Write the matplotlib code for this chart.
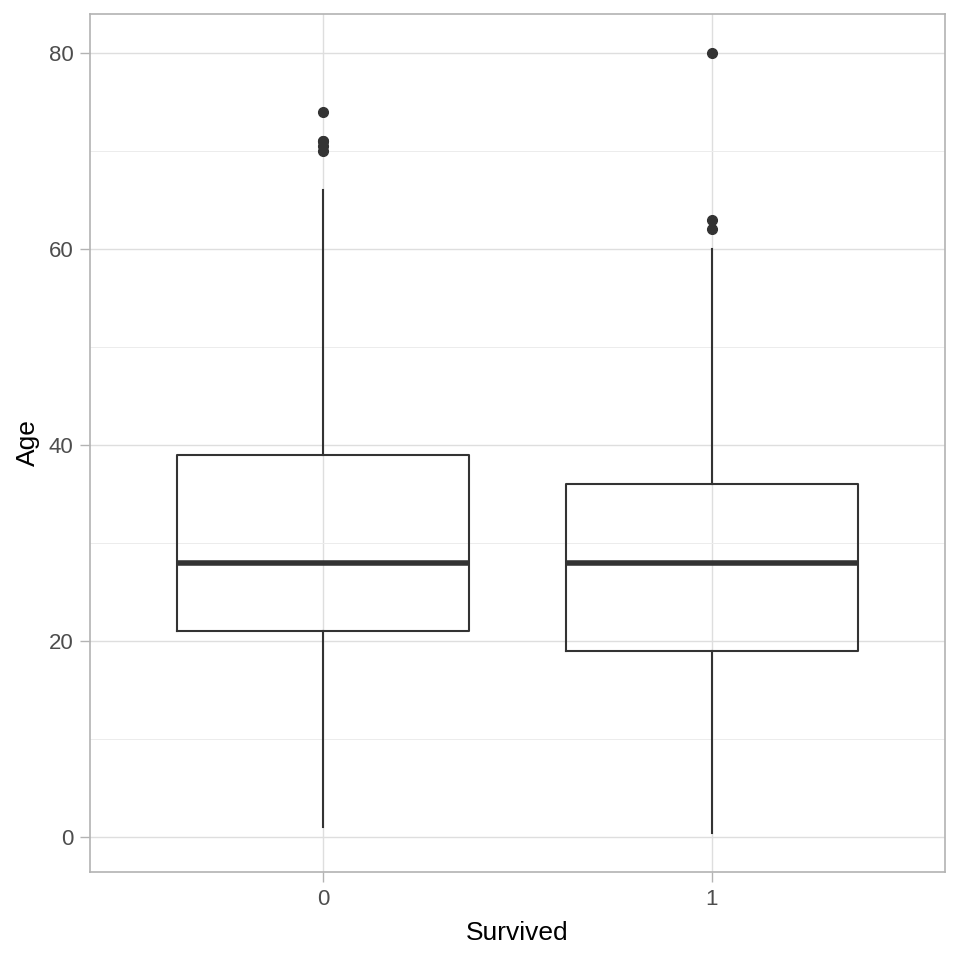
import matplotlib
matplotlib.use("Agg")
import matplotlib.pyplot as plt
from matplotlib.ticker import MultipleLocator

plt.rcParams["font.family"] = ["Liberation Sans", "DejaVu Sans"]

groups = ["0", "1"]
q1 = [21, 19]
median = [28, 28]
q3 = [39, 36]
whisker_low = [1, 0.42]
whisker_high = [66, 60]
outliers = [[70, 70.5, 71, 71, 74], [62, 63, 80]]

stats = []
for i, g in enumerate(groups):
    stats.append({
        "label": g,
        "q1": q1[i], "med": median[i], "q3": q3[i],
        "whislo": whisker_low[i], "whishi": whisker_high[i],
        "fliers": outliers[i],
    })

fig = plt.figure(figsize=(9.6, 9.6), dpi=100)
ax = fig.add_axes([90 / 960, 88 / 960, 855 / 960, 858 / 960])

dark = "#333333"
ax.bxp(
    stats,
    positions=[1, 2],
    widths=0.75,
    showcaps=False,
    boxprops=dict(color=dark, linewidth=1.5),
    whiskerprops=dict(color=dark, linewidth=1.5),
    medianprops=dict(color=dark, linewidth=4, solid_capstyle="butt"),
    flierprops=dict(marker="o", markerfacecolor=dark, markeredgecolor=dark, markersize=7),
    zorder=3,
)

ax.set_xlim(0.4, 2.6)
ax.set_ylim(-3.56, 83.98)
ax.yaxis.set_major_locator(MultipleLocator(20))
ax.yaxis.set_minor_locator(MultipleLocator(10))
ax.set_xticks([1, 2])
ax.set_xticklabels(groups)

ax.grid(True, which="major", color="#dedede", linewidth=1.0, zorder=0)
ax.grid(True, which="minor", axis="y", color="#ececec", linewidth=0.7, zorder=0)
ax.set_axisbelow(True)

for s in ax.spines.values():
    s.set_color("#b3b3b3")
    s.set_linewidth(1.2)

ax.tick_params(which="major", colors="#b3b3b3", length=7, width=1.0, labelcolor="#4d4d4d", labelsize=16, pad=5)
ax.tick_params(which="minor", length=0)

ax.set_xlabel("Survived", fontsize=19, color="black", labelpad=8)
ax.set_ylabel("Age", fontsize=19, color="black", labelpad=6)

fig.savefig("out.png", dpi=100)
